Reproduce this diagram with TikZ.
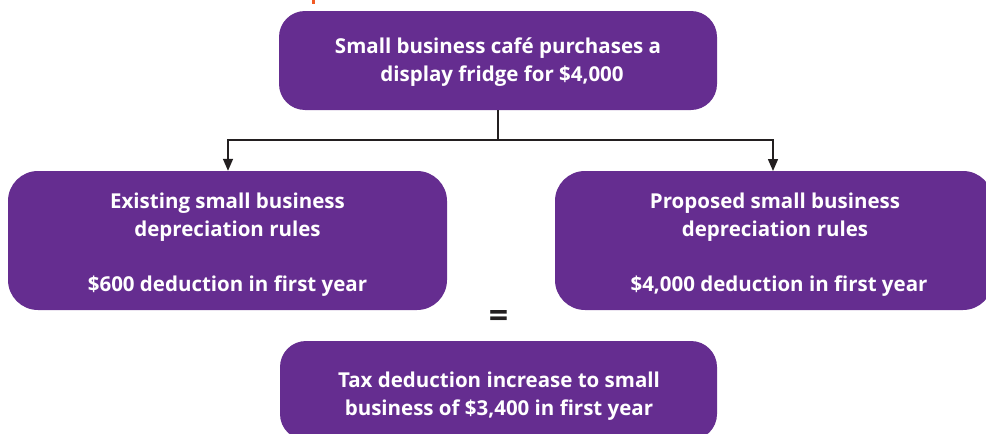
\documentclass[tikz,border=0pt]{standalone}
\usepackage{fontspec}
\setmainfont{Open Sans}
\usetikzlibrary{arrows.meta}
\definecolor{boxpurple}{HTML}{652D90}
\definecolor{linedark}{HTML}{231F20}
\definecolor{markorange}{HTML}{F15A24}
\tikzset{
  box/.style={fill=boxpurple, draw=none, rounded corners=26pt, inner sep=0pt},
  boxtext/.style={text=white, font=\bfseries\fontsize{20.5}{28}\selectfont, align=center, inner sep=0pt},
  conn/.style={draw=linedark, line width=1.5pt, -{Triangle[width=10pt,length=12pt]}},
}
\begin{document}
\begin{tikzpicture}[x=1pt,y=-1pt]
\useasboundingbox (0,0) rectangle (986,434);
\fill[markorange] (312,0) rectangle (314.5,4);
\node[box, minimum width=438pt, minimum height=99pt] (top) at (498,60.5) {};
\node[boxtext] (toptext) at (498,62.5)
  {Small business café purchases a\\ \hspace*{8pt}display fridge for \$4,000};
\node[box, minimum width=439pt, minimum height=139pt, rounded corners=30pt] (left) at (227.5,240.5) {};
\node[boxtext] (lefttext) at (227.5,244.5)
  {Existing small business\\ depreciation rules\\[27pt] \$600 deduction in first year};
\node[box, minimum width=438pt, minimum height=139pt, rounded corners=30pt] (right) at (774,240.5) {};
\node[boxtext] (righttext) at (775,244.5)
  {Proposed small business\\ depreciation rules\\[27pt] \hspace*{8pt}\$4,000 deduction in first year};
\node[box, minimum width=437pt, minimum height=99pt] (bottom) at (498.5,390.5) {};
\node[boxtext] (bottomtext) at (499,396.5)
  {Tax deduction increase to small\\ business of \$3,400 in first year};
\node[text=linedark, font=\bfseries\fontsize{34}{34}\selectfont, inner sep=0pt] (eq) at (498.5,319) {=};
\coordinate (split) at (498,140);
\draw[conn] (top.south) -- (split) -| (left.north -| 228,0);
\draw[conn] (split) -| (773,171);
\end{tikzpicture}
\end{document}
